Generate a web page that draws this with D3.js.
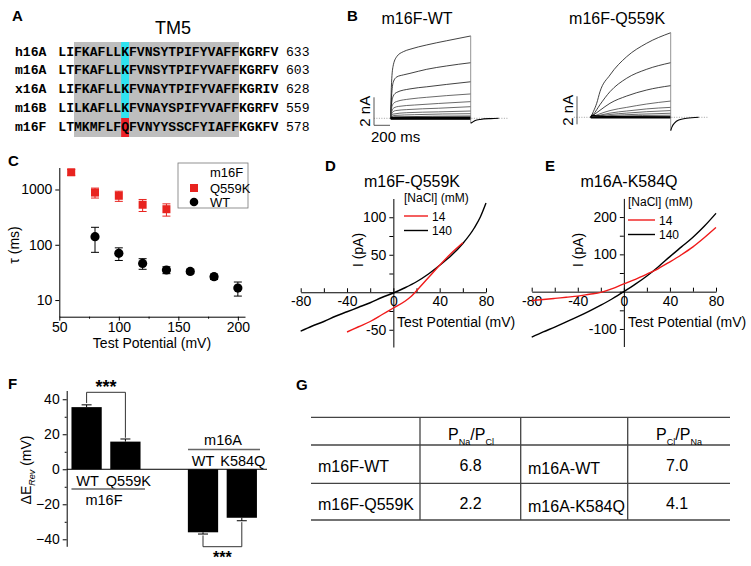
<!DOCTYPE html>
<html>
<head>
<meta charset="utf-8">
<script src="https://cdn.jsdelivr.net/npm/d3@7"></script>
<style>
  body { margin: 0; background: #fff; }
  svg { display: block; font-family: "Liberation Sans", Arial, sans-serif; }
</style>
</head>
<body>
<div id="fig"></div>
<script>
// ---------------------------------------------------
// DATA
// ---------------------------------------------------

// A — TM5 alignment
const seqNames = ["h16A", "m16A", "x16A", "m16B", "m16F"];
const seqStrings = [
  "LIFKAFLLKFVNSYTPIFYVAFFKGRFV",
  "LTFKAFLLKFVNSYTPIFYVAFFKGRFV",
  "LIFKAFLLKFVNAYTPIFYVAFFKGRIV",
  "LILKAFLLKFVNAYSPIFYVAFFKGRFV",
  "LTMKMFLFQFVNYYSSCFYIAFFKGKFV"
];
const seqEndNums = ["633", "603", "628", "559", "578"];

// B — current traces, [time ms, current nA]
const wtTraces = [
  [[0,0],[8,2.2],[29,3.7],[75,4.4],[158,4.76],[241,4.93],[450,5.24],[700,5.54],[1000,5.88]],
  [[0,0],[10,1.5],[33,2.6],[75,2.95],[158,3.1],[241,3.21],[450,3.5],[700,3.74],[1000,3.97]],
  [[0,0],[10,1.0],[33,1.6],[75,1.85],[241,2.1],[450,2.25],[700,2.42],[1000,2.61]],
  [[0,0],[10,0.7],[33,1.05],[75,1.2],[241,1.38],[450,1.5],[700,1.62],[1000,1.74]],
  [[0,0],[15,0.5],[40,0.75],[100,0.85],[300,0.95],[600,1.06],[1000,1.19]],
  [[0,0],[20,0.4],[60,0.55],[200,0.62],[600,0.72],[1000,0.83]],
  [[0,0],[30,0.3],[200,0.4],[600,0.46],[1000,0.52]],
  [[0,0],[40,0.2],[300,0.26],[1000,0.33]],
  [[0,0],[50,0.1],[1000,0.17]]
];
const wtFlat = [
  [[0,0.06],[1000,0.08]],
  [[0,0.02],[1000,0.03]],
  [[0,-0.02],[1000,-0.02]],
  [[0,-0.05],[1000,-0.05]]
];
const wtTail = [[1000,-0.35],[1015,-0.3],[1050,-0.18],[1120,-0.08],[1250,-0.02],[1350,0]];

const qTraces = [
  [[0,0],[33,0.4],[75,1.0],[116,1.83],[241,3.02],[450,4.33],[700,5.29],[1000,6.04]],
  [[0,0],[33,0.2],[116,0.9],[241,1.83],[450,2.79],[700,3.43],[1000,3.9]],
  [[0,0],[33,0.15],[116,0.5],[241,1.0],[450,1.52],[700,1.95],[1000,2.26]],
  [[0,0],[116,0.25],[241,0.48],[450,0.71],[700,0.95],[1000,1.16]],
  [[0,0],[116,0.15],[241,0.3],[450,0.45],[700,0.6],[1000,0.71]],
  [[0,0],[241,0.2],[450,0.3],[700,0.4],[1000,0.48]],
  [[0,0],[241,0.12],[600,0.22],[1000,0.29]],
  [[0,0],[300,0.08],[1000,0.15]]
];
const qFlat = [
  [[0,0],[20,0.15],[80,0.1],[200,0.05],[1000,0.03]],
  [[0,0],[1000,0.0]],
  [[0,-0.04],[1000,-0.04]]
];
const qTail = [[1000,-0.95],[1015,-0.7],[1050,-0.4],[1100,-0.2],[1200,-0.07],[1350,0]];

// C — activation time constants
const cQ559KVolt = [60, 80, 100, 120, 140];
const cQ559KTau  = [2050, 880, 770, 530, 440];
const cQ559KErr  = [250, 180, 160, 130, 110];
const cWTVolt = [80, 100, 120, 140, 160, 180, 200];
const cWTTau  = [140, 70, 46, 35, 33, 26.5, 16.5];
const cWTErr  = [67, 18, 10, 5, 3, 3, 4.7];

// D — m16F-Q559K I-V (mV, pA)
const dVolt140 = [-80,-70,-60,-50,-40,-30,-20,-10,0,10,20,30,40,50,60,70,75,80];
const dCur140  = [-52,-45,-39,-32,-26,-20,-14,-7,-1,6,14,24,36,49,65,86,100,119];
const dVolt14  = [-40,-30,-20,-10,0,10,15,20,30,40,50,60];
const dCur14   = [-53,-46,-39,-30,-21,-12,-6,2,19,36,52,66];

// E — m16A-K584Q I-V (mV, pA)
const eVolt    = [-80,-70,-60,-50,-40,-30,-20,-10,0,10,20,30,40,50,60,70,80];
const eCur140  = [-122,-108,-95,-81,-67,-52,-36,-19,0,20,42,67,94,120,146,176,210];
const eCur14   = [-24,-21,-18,-15,-12,-7,-2,8,21,33,47,62,80,99,120,145,172];

// F — reversal potential shift (mV)
const fBarKeys   = ["m16F WT", "m16F Q559K", "gap", "m16A WT", "m16A K584Q"];
const fBarLabels = ["WT", "Q559K", "", "WT", "K584Q"];
const fBarValues = [35.5, 15.8, null, -36, -27.7];
const fBarErrors = [1.3, 1.5, null, 1.0, 1.7];

// G — permeability ratios
const gHeaderA = ["P", "Na", "/P", "Cl"];
const gHeaderB = ["P", "Cl", "/P", "Na"];
const gLeftNames  = ["m16F-WT", "m16F-Q559K"];
const gLeftRatio  = ["6.8", "2.2"];
const gRightNames = ["m16A-WT", "m16A-K584Q"];
const gRightRatio = ["7.0", "4.1"];

// ---------------------------------------------------
// SVG
// ---------------------------------------------------
const W = 751, H = 566;
const svg = d3.select("#fig").append("svg")
  .attr("width", W).attr("height", H)
  .attr("viewBox", `0 0 ${W} ${H}`);

const panelLabel = (txt, x, y) =>
  svg.append("text").attr("x", x).attr("y", y)
    .attr("font-size", 15).attr("font-weight", "bold").text(txt);

const styleAxis = (sel, fs = 14) => {
  sel.selectAll("path").attr("stroke", "#000").attr("stroke-width", 1);
  sel.selectAll("line").attr("stroke", "#000").attr("stroke-width", 1);
  sel.selectAll("text").attr("font-size", fs).attr("fill", "#000")
    .attr("font-family", "Liberation Sans, Arial, sans-serif");
};

// ---------------------------------------------------
// PANEL A — alignment
// ---------------------------------------------------
const drawA = () => {
  panelLabel("A", 12, 21);
  const xc = d3.scaleLinear().domain([0, 28]).range([58.3, 278.3]);
  const yr = d3.scaleLinear().domain([0, 4]).range([55.5, 130.7]);

  svg.append("rect").attr("x", xc(2)).attr("y", 42)
    .attr("width", xc(23) - xc(2)).attr("height", 95).attr("fill", "#bebebe");
  svg.append("rect").attr("x", xc(8)).attr("y", 42)
    .attr("width", xc(9) - xc(8)).attr("height", 76).attr("fill", "#2fe3f0");
  svg.append("rect").attr("x", xc(8)).attr("y", 118)
    .attr("width", xc(9) - xc(8)).attr("height", 19).attr("fill", "#ec2028");

  svg.append("text").attr("x", 173).attr("y", 34).attr("text-anchor", "middle")
    .attr("font-size", 18).text("TM5");

  const rows = svg.append("g")
    .attr("font-family", "Liberation Mono, Courier New, monospace")
    .attr("font-size", 13.1);

  seqNames.forEach((name, i) => {
    rows.append("text").attr("x", 15).attr("y", yr(i))
      .attr("font-weight", "bold").text(name);
    rows.append("text").attr("x", xc(0)).attr("y", yr(i))
      .attr("font-weight", "bold").attr("textLength", xc(28) - xc(0))
      .text(seqStrings[i]);
    rows.append("text").attr("x", 286).attr("y", yr(i))
      .text(seqEndNums[i]);
  });
};

// ---------------------------------------------------
// PANEL B — current traces
// ---------------------------------------------------
const drawTraces = (title, x0, base, traces, flat, tail, barX, withTime) => {
  const x = d3.scaleLinear().domain([0, 1000]).range([x0, x0 + 80]);
  const y = d3.scaleLinear().domain([0, 6]).range([base, base - 84]);
  const line = d3.line().x(d => x(d[0])).y(d => y(d[1])).curve(d3.curveMonotoneX);

  svg.append("text").attr("x", x(330)).attr("y", 24).attr("text-anchor", "middle")
    .attr("font-size", 16).text(title);

  // dotted zero line
  svg.append("line").attr("x1", x(-210)).attr("x2", x(1470))
    .attr("y1", y(0)).attr("y2", y(0))
    .attr("stroke", "#8a8a8a").attr("stroke-width", 0.8).attr("stroke-dasharray", "1,1.5");

  const g = svg.append("g").attr("fill", "none");
  g.selectAll(".tr").data(traces).join("path")
    .attr("d", line).attr("stroke", (d, i) => i < 3 ? "#111" : "#444")
    .attr("stroke-width", 0.8);
  g.selectAll(".fl").data(flat).join("path")
    .attr("d", line).attr("stroke", "#000").attr("stroke-width", 1.4);

  // off-step drop and tail
  const top = d3.max(traces, t => t[t.length - 1][1]);
  const low = d3.min(tail, d => d[1]);
  g.append("line").attr("x1", x(1000)).attr("x2", x(1000))
    .attr("y1", y(top)).attr("y2", y(low)).attr("stroke", "#777").attr("stroke-width", 0.8);
  g.append("path").attr("d", line(tail)).attr("stroke", "#000").attr("stroke-width", 1.1);

  // scale bar
  svg.append("line").attr("x1", barX).attr("x2", barX)
    .attr("y1", y(0) + 7).attr("y2", y(2) + 7).attr("stroke", "#555").attr("stroke-width", 1);
  svg.append("text")
    .attr("transform", `translate(${barX - 4},${y(1) + 7}) rotate(-90)`)
    .attr("text-anchor", "middle").attr("font-size", 15).text("2 nA");
  if (withTime) {
    svg.append("line").attr("x1", barX).attr("x2", barX + (x(200) - x(0)))
      .attr("y1", y(0) + 7).attr("y2", y(0) + 7).attr("stroke", "#555").attr("stroke-width", 1);
    svg.append("text").attr("x", barX - 3).attr("y", 142)
      .attr("font-size", 15).text("200 ms");
  }
};

// ---------------------------------------------------
// PANEL C — tau vs voltage (log)
// ---------------------------------------------------
const drawC = () => {
  panelLabel("C", 8, 166);
  const x = d3.scaleLinear().domain([50, 206]).range([59.3, 245]);
  const y = d3.scaleLog().domain([5, 2500]).range([316.7, 167.5]);

  const ax = svg.append("g").attr("transform", "translate(0,316.7)")
    .call(d3.axisBottom(x).tickValues([50, 100, 150, 200]).tickSize(4).tickSizeOuter(0).tickPadding(1));
  styleAxis(ax);
  svg.append("g").attr("transform", "translate(0,316.7)")
    .call(d3.axisBottom(x).tickValues([75, 125, 175]).tickSize(2).tickFormat(""))
    .call(s => { s.select("path").remove(); styleAxis(s); });
  const ay = svg.append("g").attr("transform", "translate(59.3,0)")
    .call(d3.axisLeft(y).tickValues([10, 100, 1000]).tickFormat(d3.format("d"))
      .tickSize(4).tickSizeOuter(0).tickPadding(3));
  styleAxis(ay);

  svg.append("text").attr("x", 152).attr("y", 348).attr("text-anchor", "middle")
    .attr("font-size", 14).text("Test Potential (mV)");
  svg.append("text").attr("transform", "translate(19,245) rotate(-90)")
    .attr("text-anchor", "middle").attr("font-size", 14).text("τ (ms)");

  const errs = (vs, ms, es, color) => {
    const g = svg.append("g").attr("stroke", color).attr("stroke-width", 1);
    vs.forEach((v, i) => {
      const yt = y(ms[i] + es[i]), yb = y(ms[i] - es[i]);
      g.append("line").attr("x1", x(v)).attr("x2", x(v)).attr("y1", yt).attr("y2", yb);
      g.append("line").attr("x1", x(v) - 4).attr("x2", x(v) + 4).attr("y1", yt).attr("y2", yt);
      g.append("line").attr("x1", x(v) - 4).attr("x2", x(v) + 4).attr("y1", yb).attr("y2", yb);
    });
  };
  errs(cQ559KVolt, cQ559KTau, cQ559KErr, "#e8231f");
  errs(cWTVolt, cWTTau, cWTErr, "#000");

  svg.selectAll(".sq").data(cQ559KVolt).join("rect")
    .attr("x", d => x(d) - 4).attr("y", (d, i) => y(cQ559KTau[i]) - 4)
    .attr("width", 8).attr("height", 8).attr("fill", "#e8231f");
  svg.selectAll(".ci").data(cWTVolt).join("circle")
    .attr("cx", d => x(d)).attr("cy", (d, i) => y(cWTTau[i]))
    .attr("r", 4.6).attr("fill", "#000");

  // legend
  const lg = svg.append("g");
  lg.append("rect").attr("x", 178).attr("y", 163).attr("width", 70).attr("height", 45)
    .attr("fill", "#fff").attr("stroke", "#777").attr("stroke-width", 0.8);
  lg.append("text").attr("x", 210).attr("y", 177).attr("font-size", 13).text("m16F");
  lg.append("rect").attr("x", 190).attr("y", 184).attr("width", 8).attr("height", 8).attr("fill", "#e8231f");
  lg.append("text").attr("x", 210).attr("y", 192.5).attr("font-size", 13).text("Q559K");
  lg.append("circle").attr("cx", 194).attr("cy", 202).attr("r", 4.3).attr("fill", "#000");
  lg.append("text").attr("x", 210).attr("y", 206.5).attr("font-size", 13).text("WT");
};

// ---------------------------------------------------
// PANELS D / E — I-V curves
// ---------------------------------------------------
const drawIV = (cfg) => {
  panelLabel(cfg.label, cfg.labelX, 171);
  const x = d3.scaleLinear().domain([-80, 80]).range(cfg.xRange);
  const y = d3.scaleLinear().domain(cfg.yDomain).range(cfg.yRange);

  svg.append("text").attr("x", cfg.titleX).attr("y", 187).attr("text-anchor", "middle")
    .attr("font-size", 16).text(cfg.title);

  const ax = svg.append("g").attr("transform", `translate(0,${y(0)})`)
    .call(d3.axisBottom(x).tickValues(d3.range(-80, 81, 20)).tickSize(-4).tickSizeOuter(0)
      .tickPadding(4).tickFormat(d => d % 40 === 0 ? d : ""));
  styleAxis(ax);
  const ay = svg.append("g").attr("transform", `translate(${x(0)},0)`)
    .call(d3.axisLeft(y).tickValues(cfg.yTicks).tickSize(4).tickSizeOuter(0).tickPadding(3)
      .tickFormat(d => cfg.yLabels.includes(d) ? d : ""));
  styleAxis(ay);

  svg.append("text").attr("x", cfg.xTitleX).attr("y", 327).attr("font-size", 14)
    .text("Test Potential (mV)");
  svg.append("text").attr("transform", `translate(${cfg.yTitleX},250) rotate(-90)`)
    .attr("text-anchor", "middle").attr("font-size", 14).text("I (pA)");

  const line = d3.line().x(d => x(d[0])).y(d => y(d[1])).curve(d3.curveMonotoneX);
  svg.append("path").attr("d", line(d3.zip(cfg.v140, cfg.i140)))
    .attr("fill", "none").attr("stroke", "#000").attr("stroke-width", 1.4);
  svg.append("path").attr("d", line(d3.zip(cfg.v14, cfg.i14)))
    .attr("fill", "none").attr("stroke", "#f01a1a").attr("stroke-width", 1.4);

  const lx = cfg.legendX, ly = cfg.legendY;
  svg.append("text").attr("x", lx).attr("y", ly).attr("font-size", 12).text("[NaCl] (mM)");
  svg.append("line").attr("x1", lx).attr("x2", lx + cfg.legLen).attr("y1", ly + 14).attr("y2", ly + 14)
    .attr("stroke", "#f01a1a").attr("stroke-width", 1.4);
  svg.append("text").attr("x", lx + cfg.legLen + 4).attr("y", ly + 18.5).attr("font-size", 12).text("14");
  svg.append("line").attr("x1", lx).attr("x2", lx + cfg.legLen).attr("y1", ly + 28.5).attr("y2", ly + 28.5)
    .attr("stroke", "#000").attr("stroke-width", 1.4);
  svg.append("text").attr("x", lx + cfg.legLen + 4).attr("y", ly + 33).attr("font-size", 12).text("140");
};

// ---------------------------------------------------
// PANEL F — reversal potential bars
// ---------------------------------------------------
const drawF = () => {
  panelLabel("F", 8, 389);
  const x = d3.scaleBand().domain(fBarKeys).range([67.2, 261.2])
    .paddingInner(0.22).paddingOuter(0.11);
  const y = d3.scaleLinear().domain([-44, 45]).range([546.3, 390.5]);

  const ay = svg.append("g").attr("transform", "translate(66.7,0)")
    .call(d3.axisLeft(y).tickValues([-40, -20, 0, 20, 40]).tickSize(4).tickSizeOuter(0).tickPadding(3));
  styleAxis(ay);
  svg.append("g").attr("transform", "translate(66.7,0)")
    .call(d3.axisLeft(y).tickValues([-30, -10, 10, 30]).tickSize(2).tickFormat(""))
    .call(s => { s.select("path").remove(); styleAxis(s); });

  svg.append("line").attr("x1", 66.7).attr("x2", 267).attr("y1", y(0)).attr("y2", y(0))
    .attr("stroke", "#000").attr("stroke-width", 1);

  const bars = fBarKeys.map((k, i) => ({ k, v: fBarValues[i], e: fBarErrors[i], lab: fBarLabels[i] }))
    .filter(d => d.v !== null);

  svg.selectAll(".bar").data(bars).join("rect")
    .attr("x", d => x(d.k)).attr("width", x.bandwidth())
    .attr("y", d => y(Math.max(0, d.v))).attr("height", d => Math.abs(y(d.v) - y(0)))
    .attr("fill", "#000");

  const eg = svg.append("g").attr("stroke", "#000").attr("stroke-width", 1);
  bars.forEach(d => {
    const cx = x(d.k) + x.bandwidth() / 2;
    const tip = d.v > 0 ? d.v + d.e : d.v - d.e;
    eg.append("line").attr("x1", cx).attr("x2", cx).attr("y1", y(d.v)).attr("y2", y(tip));
    eg.append("line").attr("x1", cx - 5).attr("x2", cx + 5).attr("y1", y(tip)).attr("y2", y(tip));
  });

  const cx = k => x(k) + x.bandwidth() / 2;

  // group labels
  svg.append("text").attr("x", cx("m16F WT") + 1).attr("y", 486).attr("text-anchor", "middle")
    .attr("font-size", 14.5).text("WT");
  svg.append("text").attr("x", cx("m16F Q559K") + 3).attr("y", 486).attr("text-anchor", "middle")
    .attr("font-size", 14.5).text("Q559K");
  svg.append("line").attr("x1", x("m16F WT")).attr("x2", 145).attr("y1", 489).attr("y2", 489)
    .attr("stroke", "#666").attr("stroke-width", 1.6);
  svg.append("text").attr("x", 104).attr("y", 505).attr("text-anchor", "middle")
    .attr("font-size", 14.5).text("m16F");

  svg.append("text").attr("x", 223).attr("y", 445).attr("text-anchor", "middle")
    .attr("font-size", 14.5).text("m16A");
  svg.append("line").attr("x1", 188).attr("x2", 260).attr("y1", 449.5).attr("y2", 449.5)
    .attr("stroke", "#666").attr("stroke-width", 1.6);
  svg.append("text").attr("x", cx("m16A WT")).attr("y", 466).attr("text-anchor", "middle")
    .attr("font-size", 14.5).text("WT");
  svg.append("text").attr("x", cx("m16A K584Q") + 1).attr("y", 466).attr("text-anchor", "middle")
    .attr("font-size", 14.5).text("K584Q");

  // significance brackets
  const bk = svg.append("g").attr("fill", "none").attr("stroke", "#333").attr("stroke-width", 1);
  const a1 = cx("m16F WT"), a2 = cx("m16F Q559K");
  bk.append("path").attr("d", `M${a1},${y(37.8)}V392.3H${a2}V${y(18)}`);
  const b1 = cx("m16A WT"), b2 = cx("m16A K584Q");
  bk.append("path").attr("d", `M${b1},${y(-37.8)}V546.7H${b2}V${y(-30.2)}`);
  svg.append("text").attr("x", (a1 + a2) / 2).attr("y", 393).attr("text-anchor", "middle")
    .attr("font-size", 18).attr("font-weight", "bold").text("***");
  svg.append("text").attr("x", (b1 + b2) / 2).attr("y", 563).attr("text-anchor", "middle")
    .attr("font-size", 16).attr("font-weight", "bold").text("***");

  // y label with subscript
  const yl = svg.append("text").attr("transform", "translate(31,470) rotate(-90)")
    .attr("text-anchor", "middle").attr("font-size", 14);
  yl.append("tspan").text("ΔE");
  yl.append("tspan").attr("font-size", 9).attr("font-style", "italic").attr("dy", 4).text("Rev");
  yl.append("tspan").attr("dy", -4).text(" (mV)");
};

// ---------------------------------------------------
// PANEL G — table
// ---------------------------------------------------
const drawG = () => {
  panelLabel("G", 296, 390);
  const lineY = [417.3, 445, 483.3, 520];
  const colX = [420, 520.7, 627.7];
  const tg = svg.append("g").attr("stroke", "#444").attr("stroke-width", 1.3);
  lineY.forEach(v => tg.append("line").attr("x1", 311).attr("x2", 730).attr("y1", v).attr("y2", v));
  colX.forEach(v => tg.append("line").attr("x1", v).attr("x2", v).attr("y1", 417.3).attr("y2", 520));

  const header = (parts, cxp) => {
    const t = svg.append("text").attr("x", cxp).attr("y", 440).attr("text-anchor", "middle")
      .attr("font-size", 16);
    t.append("tspan").text(parts[0]);
    t.append("tspan").attr("font-size", 9).attr("dy", 5).text(parts[1]);
    t.append("tspan").attr("dy", -5).text(parts[2]);
    t.append("tspan").attr("font-size", 9).attr("dy", 5).text(parts[3]);
  };
  header(gHeaderA, 471);
  header(gHeaderB, 679);

  const rowY = [472, 510];
  gLeftNames.forEach((n, i) => {
    svg.append("text").attr("x", 318).attr("y", rowY[i]).attr("font-size", 16).text(n);
    svg.append("text").attr("x", 470.5).attr("y", rowY[i] - 1).attr("text-anchor", "middle")
      .attr("font-size", 16).text(gLeftRatio[i]);
    svg.append("text").attr("x", 528).attr("y", rowY[i] + 2).attr("font-size", 16).text(gRightNames[i]);
    svg.append("text").attr("x", 677).attr("y", rowY[i] - 1.5).attr("text-anchor", "middle")
      .attr("font-size", 16).text(gRightRatio[i]);
  });
};

// ---------------------------------------------------
// DRAW ALL
// ---------------------------------------------------
drawA();
panelLabel("B", 347, 21);
drawTraces("m16F-WT", 390.7, 118.3, wtTraces, wtFlat, wtTail, 374, true);
drawTraces("m16F-Q559K", 590.7, 117.3, qTraces, qFlat, qTail, 577, false);
drawC();
drawIV({
  label: "D", labelX: 325, title: "m16F-Q559K", titleX: 412,
  xRange: [300.7, 486], yDomain: [-73, 125], yRange: [347, 198.5],
  yTicks: [-50, -25, 0, 25, 50, 75, 100], yLabels: [-50, 50, 100],
  xTitleX: 397, yTitleX: 363, legendX: 404, legendY: 202, legLen: 24,
  v140: dVolt140, i140: dCur140, v14: dVolt14, i14: dCur14
});
drawIV({
  label: "E", labelX: 545, title: "m16A-K584Q", titleX: 629,
  xRange: [531.7, 716], yDomain: [-147, 250], yRange: [346.5, 198.4],
  yTicks: [-100, -50, 0, 50, 100, 150, 200], yLabels: [-100, 100, 200],
  xTitleX: 628, yTitleX: 583, legendX: 628, legendY: 206, legLen: 27,
  v140: eVolt, i140: eCur140, v14: eVolt, i14: eCur14
});
drawF();
drawG();
</script>
</body>
</html>
